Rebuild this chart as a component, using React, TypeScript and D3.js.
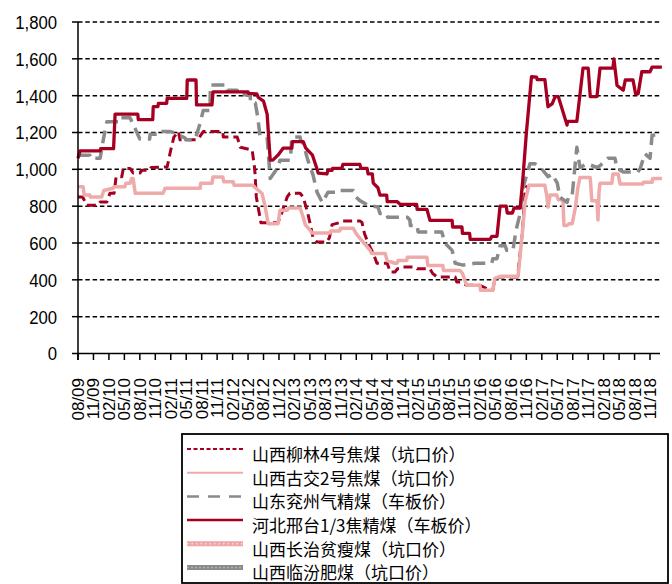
import React from 'react';
import * as d3 from 'd3';

// x positions are months counted from Aug 2009; ticks every quarter
const tickLabels = [
  '08/09', '11/09',
  '02/10', '05/10', '08/10', '11/10',
  '02/11', '05/11', '08/11', '11/11',
  '02/12', '05/12', '08/12', '11/12',
  '02/13', '05/13', '08/13', '11/13',
  '02/14', '05/14', '08/14', '11/14',
  '02/15', '05/15', '08/15', '11/15',
  '02/16', '05/16', '08/16', '11/16',
  '02/17', '05/17', '08/17', '11/17',
  '02/18', '05/18', '08/18', '11/18',
];
const yTicks = [0, 200, 400, 600, 800, 1000, 1200, 1400, 1600, 1800];

const liulin: [number, number][] = [
  [0, 850], [0.9, 850], [1.7, 805], [3.9, 805], [4.3, 823], [5.6, 823], [6.2, 870], [7.0, 870],
  [7.4, 960], [8.5, 960], [8.8, 1005], [10.1, 1005], [10.7, 980], [12.0, 980], [12.4, 995],
  [13.9, 995], [14.2, 1010], [17.3, 1013], [18.0, 1105], [18.6, 1175], [19.5, 1205], [19.8, 1160],
  [23.1, 1160], [23.7, 1180], [24.3, 1205], [28.1, 1205], [28.2, 1175], [30.9, 1175], [31.5, 1120],
  [33.8, 1105], [34.3, 1000], [34.6, 850], [35.5, 710], [38.8, 710], [39.5, 760], [40.6, 850],
  [41.1, 870], [43.1, 870], [43.7, 850], [44.6, 760], [45.2, 685], [45.6, 630], [46.4, 605],
  [48.3, 605], [48.8, 630], [49.3, 700], [51.2, 714], [51.4, 720], [54.7, 720], [55.1, 712],
  [55.6, 650], [56.1, 615], [56.7, 575], [57.3, 545], [58.0, 490], [60.0, 490], [60.6, 442],
  [61.5, 442], [62.0, 460], [62.5, 460], [63.1, 470], [65.4, 470], [65.8, 460], [68.3, 460],
  [68.8, 435], [69.7, 415], [73.2, 415], [73.5, 388], [74.2, 388], [75.5, 370], [78.0, 370],
  [79.9, 345], [80.5, 345], [80.9, 408], [81.9, 415], [85.3, 415], [86.2, 650], [86.8, 900],
  [87.2, 910],
];

const gujiao: [number, number][] = [
  [0, 905], [1.0, 905], [1.2, 860], [2.3, 860], [2.4, 850], [4.6, 850], [5.0, 885], [6.8, 897],
  [7.0, 905], [9.1, 905], [9.3, 925], [10.1, 925], [10.4, 950], [10.7, 950], [11.1, 870],
  [16.5, 870], [16.9, 897], [23.7, 897], [23.8, 925], [26.0, 925], [26.2, 958], [28.1, 958],
  [28.3, 932], [30.1, 932], [30.3, 914], [33.9, 914], [34.4, 900], [35.7, 870], [36.3, 800],
  [36.9, 705], [38.8, 705], [39.2, 778], [40.6, 778], [40.8, 790], [43.1, 790], [43.7, 740],
  [44.1, 700], [45.0, 670], [45.4, 654], [48.9, 654], [49.0, 665], [50.8, 665], [50.9, 680],
  [53.4, 680], [54.0, 650], [54.7, 625], [55.5, 600], [56.7, 560], [57.0, 543], [59.6, 543],
  [60.0, 505], [61.5, 490], [61.9, 490], [62.1, 505], [63.8, 505], [63.9, 523], [67.7, 523],
  [67.9, 478], [70.8, 478], [70.9, 451], [74.1, 451], [74.6, 435], [75.3, 380], [75.5, 370],
  [78.0, 370], [78.1, 343], [80.5, 343], [80.9, 408], [81.9, 419], [85.4, 419], [86.2, 650],
  [86.8, 830], [87.5, 913], [90.6, 913], [91.0, 850], [91.2, 795], [91.6, 860], [92.9, 860],
  [93.2, 835], [94.1, 835], [94.3, 695], [94.9, 695], [95.3, 705], [95.9, 705], [96.5, 790],
  [97.0, 900], [97.4, 955], [99.4, 955], [99.7, 830], [100.7, 830], [100.9, 725], [101.1, 875],
  [101.3, 925], [103.6, 925], [103.8, 975], [104.8, 975], [105.2, 920], [109.6, 920],
  [109.7, 930], [111.4, 930], [111.5, 950], [113.3, 950],
];

const yanzhou: [number, number][] = [
  [0, 1077], [2.3, 1077], [2.4, 1060], [4.3, 1060], [4.9, 1160], [5.6, 1258], [7.8, 1258],
  [7.9, 1280], [10.1, 1280], [10.6, 1250], [11.1, 1220], [12.0, 1165], [13.9, 1165], [14.0, 1190],
  [15.5, 1190], [15.6, 1205], [17.9, 1205], [18.5, 1200], [20.8, 1170], [20.9, 1160], [22.7, 1160],
  [23.7, 1250], [24.3, 1320], [25.6, 1320], [25.7, 1458], [28.9, 1458], [29.0, 1430], [30.9, 1430],
  [31.0, 1405], [33.4, 1405], [33.5, 1360], [34.4, 1360], [34.9, 1280], [35.3, 1185], [36.3, 1175],
  [36.7, 1175], [37.3, 950], [37.8, 970], [38.8, 1010], [39.2, 1050], [41.2, 1050], [41.5, 1175],
  [43.1, 1175], [43.2, 1160], [43.7, 1140], [44.6, 1050], [45.6, 970], [46.4, 875], [47.4, 820],
  [48.5, 875], [50.8, 875], [50.9, 885], [53.4, 885], [53.9, 850], [54.7, 830], [56.3, 805],
  [58.2, 795], [58.6, 760], [59.9, 760], [60.1, 740], [63.9, 740], [64.4, 725], [64.5, 695],
  [65.8, 695], [66.0, 660], [70.6, 660], [71.2, 600], [72.6, 560], [73.2, 490], [74.7, 480],
  [77.0, 490], [80.3, 490], [80.5, 515], [81.3, 515], [81.9, 585], [82.9, 585], [83.2, 560],
  [84.4, 560], [85.0, 670], [85.8, 760], [86.2, 885], [87.7, 1030], [88.7, 1030], [90.2, 995],
  [91.2, 960], [92.0, 975], [93.0, 925], [93.5, 850], [94.9, 820], [95.3, 860], [95.9, 860],
  [96.8, 1120], [97.4, 1010], [98.8, 1030], [100.7, 1010], [101.3, 1020], [102.8, 1060],
  [104.2, 1060], [104.6, 1005], [105.8, 985], [108.6, 985], [109.1, 1005], [110.0, 1085],
  [111.0, 1060], [111.4, 1185], [113.3, 1190],
];

const xingtai: [number, number][] = [
  [0, 1060], [0.4, 1100], [4.3, 1100], [4.4, 1112], [6.9, 1112], [7.2, 1300], [11.6, 1300],
  [11.7, 1270], [14.5, 1270], [14.6, 1340], [15.5, 1340], [15.6, 1358], [17.2, 1358], [17.3, 1385],
  [21.1, 1385], [21.2, 1485], [22.9, 1485], [23.0, 1350], [26.0, 1350], [26.2, 1421], [33.0, 1421],
  [33.1, 1412], [34.7, 1410], [35.0, 1390], [36.0, 1370], [36.7, 1300], [37.3, 1050], [37.8, 1050],
  [38.8, 1077], [39.8, 1115], [41.5, 1115], [41.6, 1150], [43.7, 1150], [44.2, 1115], [45.5, 1077],
  [46.4, 1000], [46.6, 980], [48.3, 975], [48.5, 995], [49.3, 995], [49.4, 1005], [51.2, 1005],
  [51.4, 1027], [54.7, 1027], [54.9, 1005], [56.1, 1005], [56.3, 975], [57.1, 975], [57.3, 925],
  [58.2, 900], [58.6, 860], [59.9, 860], [60.0, 825], [61.9, 825], [62.5, 810], [65.7, 810],
  [65.8, 783], [67.7, 783], [68.3, 723], [72.6, 723], [72.7, 687], [74.5, 687], [74.6, 652],
  [76.0, 652], [76.1, 620], [80.0, 620], [80.3, 636], [81.3, 636], [81.9, 800], [83.1, 800],
  [83.3, 763], [84.3, 763], [84.6, 790], [85.8, 790], [86.3, 940], [87.0, 1195], [87.5, 1350],
  [88.0, 1503], [89.0, 1500], [89.1, 1487], [90.6, 1487], [91.2, 1340], [92.0, 1355], [92.6, 1395],
  [93.2, 1395], [94.9, 1240], [95.0, 1260], [96.8, 1260], [98.0, 1550], [99.0, 1550], [99.4, 1395],
  [100.7, 1395], [101.3, 1550], [103.8, 1550], [104.0, 1600], [104.2, 1550], [104.6, 1455],
  [105.8, 1430], [106.2, 1485], [107.7, 1485], [108.2, 1410], [108.7, 1410], [109.4, 1530],
  [111.0, 1530], [111.4, 1555], [113.3, 1555],
];

const legendNames = [
  '山西柳林4号焦煤（坑口价）',
  '山西古交2号焦煤（坑口价）',
  '山东兖州气精煤（车板价）',
  '河北邢台1/3焦精煤（车板价）',
  '山西长治贫瘦煤（坑口价）',
  '山西临汾肥煤（坑口价）',
];

const RED = '#A50021';
const PINK = '#EFAAAA';
const GRAY = '#8A8A8A';

export default function App() {
  const W = 672;
  const H = 584;
  const x0 = 78;
  const x = d3.scaleLinear().domain([0, 111]).range([x0, x0 + 37 * 15.46]);
  const y = d3.scaleLinear().domain([0, 1800]).range([353.5, 22]);
  const xEnd = 660;
  const line = d3
    .line<[number, number]>()
    .x((d) => x(d[0]))
    .y((d) => y(d[1]));

  const series = [
    { data: liulin, color: RED, width: 3, dash: '9 5' },
    { data: gujiao, color: PINK, width: 3.5, dash: undefined },
    { data: yanzhou, color: GRAY, width: 3.5, dash: '13 7' },
    { data: xingtai, color: RED, width: 3.3, dash: undefined },
  ];

  const numFont = '"Liberation Sans", Arial, sans-serif';
  const lgX = 182;
  const lgY = 434;
  const rowH = 23.7;

  return (
    <svg
      width={W}
      height={H}
      style={{ position: 'absolute', left: 0, top: 0, background: '#fff' }}
    >
      <rect x={0} y={0} width={W} height={H} fill="#fff" />
      {/* gridlines */}
      {yTicks
        .filter((v) => v > 0)
        .map((v) => (
          <line
            key={'g' + v}
            x1={x0}
            x2={xEnd}
            y1={y(v)}
            y2={y(v)}
            stroke="#000"
            strokeWidth={1.5}
            strokeDasharray="4.5 2.8"
          />
        ))}
      {/* y ticks and labels */}
      {yTicks.map((v) => (
        <g key={'y' + v}>
          <line x1={72} x2={x0} y1={y(v)} y2={y(v)} stroke="#000" strokeWidth={1.5} />
          <text
            transform={`translate(57,${y(v)}) scale(0.88,1)`}
            textAnchor="end"
            dy="0.36em"
            fontFamily={numFont}
            fontSize={19}
            fill="#000"
          >
            {d3.format(',')(v)}
          </text>
        </g>
      ))}
      {/* x ticks and labels */}
      {tickLabels.map((lab, i) => (
        <g key={'x' + i}>
          <line
            x1={x(i * 3)}
            x2={x(i * 3)}
            y1={y(0)}
            y2={360}
            stroke="#000"
            strokeWidth={1.5}
          />
          <text
            transform={`translate(${x(i * 3)},378) rotate(-90)`}
            textAnchor="end"
            dy="0.35em"
            fontFamily={numFont}
            fontSize={17}
            fill="#000"
          >
            {lab}
          </text>
        </g>
      ))}
      {/* series */}
      {series.map((s, i) => (
        <path
          key={'s' + i}
          d={line(s.data) || ''}
          fill="none"
          stroke={s.color}
          strokeWidth={s.width}
          strokeDasharray={s.dash}
          strokeLinejoin="round"
        />
      ))}
      {/* axes */}
      <line x1={x0} x2={x0} y1={y(1800)} y2={360} stroke="#000" strokeWidth={1.5} />
      <line x1={x0} x2={xEnd} y1={y(0)} y2={y(0)} stroke="#000" strokeWidth={1.5} />
      {/* legend */}
      <rect
        x={lgX}
        y={lgY}
        width={486}
        height={149}
        fill="#fff"
        stroke="#000"
        strokeWidth={1.8}
      />
      {legendNames.map((name, i) => {
        const cy = 449 + i * rowH;
        const x1 = 187;
        const x2 = 243;
        let sample: React.ReactNode = null;
        if (i === 0)
          sample = <line x1={x1} x2={x2} y1={cy} y2={cy} stroke={RED} strokeWidth={2} strokeDasharray="4 2.5" />;
        else if (i === 1)
          sample = <line x1={x1} x2={x2} y1={cy} y2={cy} stroke={PINK} strokeWidth={2} />;
        else if (i === 2)
          sample = <line x1={x1} x2={x2} y1={cy} y2={cy} stroke={GRAY} strokeWidth={2.5} strokeDasharray="12 9" />;
        else if (i === 3)
          sample = <line x1={x1} x2={x2} y1={cy} y2={cy} stroke={RED} strokeWidth={2.5} />;
        else if (i === 4)
          sample = (
            <g>
              <line x1={x1} x2={x2} y1={cy} y2={cy} stroke="#EDA5A5" strokeWidth={5} />
              <line x1={x1} x2={x2} y1={cy} y2={cy} stroke="#F8DADA" strokeWidth={1.5} strokeDasharray="1.5 3" />
            </g>
          );
        else
          sample = (
            <g>
              <line x1={x1} x2={x2} y1={cy} y2={cy} stroke="#8A8A8A" strokeWidth={5} />
              <line x1={x1} x2={x2} y1={cy} y2={cy} stroke="#B0B0B0" strokeWidth={1.5} strokeDasharray="2 2" />
            </g>
          );
        return (
          <g key={'l' + i}>
            {sample}
            <text
              x={252}
              y={cy + 6}
              dy="0.35em"
              fontFamily='"Noto Sans CJK SC", sans-serif'
              fontSize={17}
              fill="#000"
            >
              {name}
            </text>
          </g>
        );
      })}
    </svg>
  );
}
